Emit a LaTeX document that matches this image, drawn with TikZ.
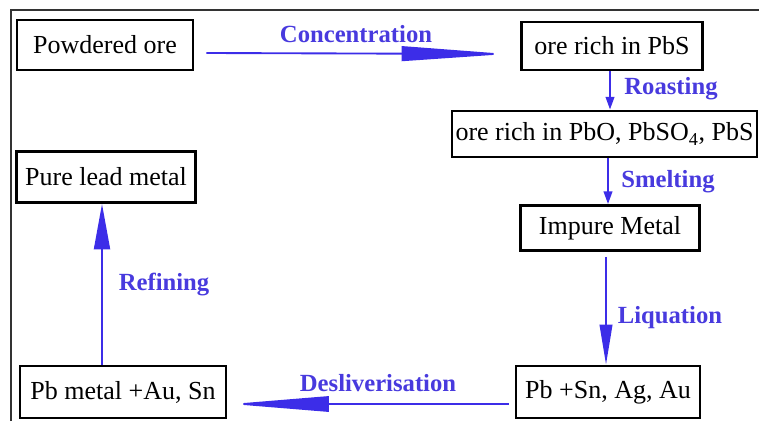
\documentclass[tikz,border=0pt]{standalone}
\usepackage{fontspec}
\setmainfont{Liberation Serif}
\usetikzlibrary{arrows.meta,calc}
\definecolor{flowblue}{RGB}{60,45,232}
\definecolor{labblue}{RGB}{72,58,222}
\begin{document}
\begin{tikzpicture}[x=0.75pt,y=-0.75pt,
  box/.style={draw=black,line width=2.2pt,inner sep=0pt,anchor=center,
    font=\fontsize{19.5}{22}\selectfont},
  lab/.style={text=labblue,font=\bfseries\fontsize{18.5}{21}\selectfont,inner sep=0pt},
  flow/.style={draw=flowblue,line width=1.4pt}]
\useasboundingbox (0,0) rectangle (759,421);
\draw[line width=1.1pt,black!80] (11,421) -- (11,10) -- (759,10);
% boxes
\node[box,minimum width=132pt,minimum height=37.5pt] (pow) at (105,45) {Powdered ore};
\node[box,minimum width=135.75pt,minimum height=36pt] (pbs) at (612,46) {ore rich in PbS};
\node[box,minimum width=228.75pt,minimum height=34.5pt] (pbo) at (604.5,134) {ore rich in PbO, PbSO\textsubscript{4}, PbS};
\node[box,minimum width=134.25pt,minimum height=33.75pt] (imp) at (610,228) {Impure Metal};
\node[box,minimum width=134.25pt,minimum height=38.25pt] (pure) at (106,177) {Pure lead metal};
\node[box,minimum width=154.5pt,minimum height=39pt] (pbm) at (123,392) {Pb metal +Au, Sn};
\node[box,minimum width=138pt,minimum height=39pt] (pbsn) at (608,392) {Pb +Sn, Ag, Au};
% labels
\node[lab] (lconc) at (356,34) {Concentration};
\node[lab] (lroast) at (671,89) {Roasting};
\node[lab] (lsmelt) at (668,182) {Smelting};
\node[lab] (lliq) at (670,318) {Liquation};
\node[lab] (lref) at (164,285) {Refining};
\node[lab] (ldes) at (378,383) {Desliverisation};
% connectors
\draw[flow,-{Triangle[length=79pt,width=11pt]}] ($(pow.east)+(12,8)$) -- ($(pbs.west)+(-13,8)$);
\draw[flow,-{Triangle[length=9.5pt,width=6.5pt]}] ([xshift=-1.5pt]pbs.south) -- ([xshift=-1.5pt]pbs.south |- pbo.north);
\draw[flow,-{Triangle[length=9.5pt,width=6.5pt]}] ([xshift=-1.5pt]imp.north |- pbo.south) -- ([xshift=-1.5pt]imp.north);
\coordinate (liqs) at ($(imp.south)+(-4,5)$);
\draw[flow,-{Triangle[length=30pt,width=9.5pt]}] (liqs) -- (liqs |- pbsn.north);
\draw[flow,-{Triangle[length=73pt,width=11.5pt]}] ($(pbsn.west)+(-6,12)$) -- ($(pbm.east)+(4,12)$);
\draw[flow,-{Triangle[length=34pt,width=12pt]}] ([xshift=-3pt]pure.south |- pbm.north) -- ([xshift=-3pt]pure.south);
\end{tikzpicture}
\end{document}
